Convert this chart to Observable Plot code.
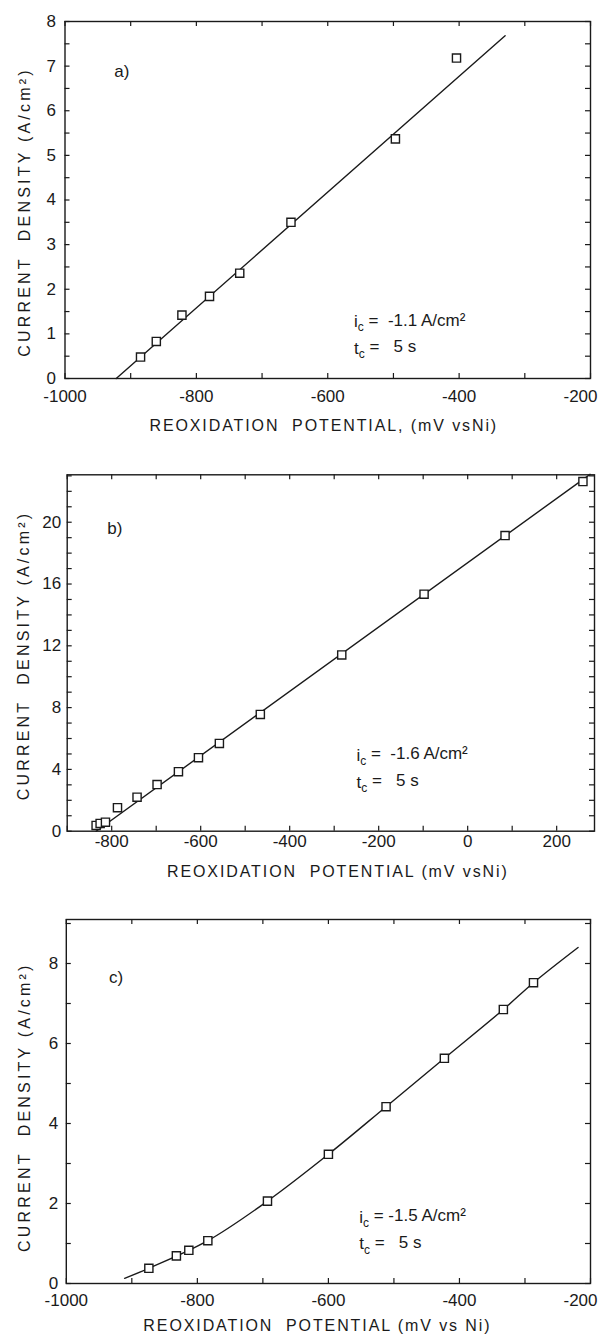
<!DOCTYPE html>
<html><head><meta charset="utf-8">
<script src="https://cdn.jsdelivr.net/npm/d3@7"></script>
<script src="https://cdn.jsdelivr.net/npm/@observablehq/plot@0.6"></script>
<style>
body{margin:0;background:#fff;}
#wrap{position:relative;width:605px;height:1342px;background:#fff;}
#wrap svg{position:absolute;left:0;}
</style></head><body><div id="wrap"></div>
<script>
// ---------- data ----------
// Panel a
const aPotential = [-885, -861, -822, -780, -734, -656, -497, -404];
const aCurrent   = [0.48, 0.83, 1.42, 1.84, 2.36, 3.50, 5.37, 7.18];
const aFitPotential = [-922, -330];
const aFitCurrent   = [0, 7.68];
const aXTicks = [-1000, -800, -600, -400, -200];
const aYTicks = [0, 1, 2, 3, 4, 5, 6, 7, 8];
// Panel b
const bPotential = [-835, -826, -814, -787, -743, -698, -650, -605, -558, -466, -283, -98, 84, 259];
const bCurrent   = [0.37, 0.50, 0.58, 1.52, 2.20, 3.02, 3.85, 4.76, 5.68, 7.56, 11.41, 15.34, 19.14, 22.63];
const bFitPotential = [-835, 275];
const bFitCurrent   = [0, 23.1];
const bXTicks = [-800, -600, -400, -200, 0, 200];
const bYTicks = [0, 4, 8, 12, 16, 20];
// Panel c
const cPotential = [-874, -832, -813, -784, -693, -600, -512, -423, -333, -287];
const cCurrent   = [0.38, 0.69, 0.83, 1.07, 2.06, 3.23, 4.42, 5.63, 6.85, 7.52];
const cFitPotential = [-911, -874, -784, -693, -600, -512, -423, -333, -287, -219];
const cFitCurrent   = [0.13, 0.38, 1.07, 2.06, 3.23, 4.42, 5.63, 6.85, 7.52, 8.40];
const cXTicks = [-1000, -800, -600, -400, -200];
const cYTicks = [0, 2, 4, 6, 8];

const yTitle = "CURRENT  DENSITY (A/cm²)";
const xTitles = ["REOXIDATION  POTENTIAL, (mV vsNi)", "REOXIDATION  POTENTIAL (mV vsNi)", "REOXIDATION  POTENTIAL (mV vs Ni)"];
const panelTags = ["a)", "b)", "c)"];
const icLabels = ["i_c =  -1.1 A/cm²", "i_c =  -1.6 A/cm²", "i_c = -1.5 A/cm²"];
const tcLabel = "t_c =   5 s";

// ---------- layout ----------
const panels = [
  {px: aPotential, py: aCurrent, fx: aFitPotential, fy: aFitCurrent, xt: aXTicks, yt: aYTicks,
   xDomain: [-1000, -200], yDomain: [0, 8], xMinorStep: 100, yMinorStep: 0.5, curve: "linear",
   top: 0, height: 447, mt: 21, mb: 69, ml: 64.5, mr: 15, xPad: 11, yPad: 9, lastDx: -10,
   xTitleDy: 52, xTitleDx: -4, yTitleDx: -40.5, yTitleDy: 12,
   tag: [-925, 6.88], ic: [-560, 1.27], tc: [-560, 0.67]},
  {px: bPotential, py: bCurrent, fx: bFitPotential, fy: bFitCurrent, xt: bXTicks, yt: bYTicks,
   xDomain: [-900, 285], yDomain: [0, 23.07], xMinorStep: 100, yMinorStep: 1, curve: "linear",
   top: 447, height: 448, mt: 27.3, mb: 64.3, ml: 66.7, mr: 11, xPad: 4, yPad: 6, lastDx: 0,
   xTitleDy: 46, xTitleDx: 7, yTitleDx: -43.7, yTitleDy: 2.5,
   tag: [-810, 19.6], ic: [-250, 4.9], tc: [-250, 3.17]},
  {px: cPotential, py: cCurrent, fx: cFitPotential, fy: cFitCurrent, xt: cXTicks, yt: cYTicks,
   xDomain: [-1000, -200], yDomain: [0, 9.1], xMinorStep: 100, yMinorStep: 1, curve: "catmull-rom",
   top: 895, height: 447, mt: 24, mb: 59, ml: 65.8, mr: 15, xPad: 10, yPad: 8, lastDx: -10,
   xTitleDy: 47, xTitleDx: -11, yTitleDx: -41.8, yTitleDy: 5.7,
   tag: [-935, 7.65], ic: [-553, 1.65], tc: [-553, 0.99]}
];

const INK = "#1a1a1a";
const wrap = document.getElementById("wrap");

panels.forEach((p, k) => {
  const W = 605, H = p.height;
  const fw = W - p.ml - p.mr, fh = H - p.mt - p.mb;
  const pts = p.px.map((x, i) => ({x, y: p.py[i]}));
  const fit = p.fx.map((x, i) => ({x, y: p.fy[i]}));
  const xMinor = d3.range(Math.ceil(p.xDomain[0] / p.xMinorStep) * p.xMinorStep, p.xDomain[1] + 1e-9, p.xMinorStep);
  const yMinor = d3.range(p.yDomain[0], p.yDomain[1] + 1e-9, p.yMinorStep);
  const tl = 5;
  const xtMain = p.lastDx ? p.xt.slice(0, -1) : p.xt;
  const xtLast = p.lastDx ? p.xt.slice(-1) : [];
  const svg = Plot.plot({
    width: W, height: H,
    marginTop: p.mt, marginBottom: p.mb, marginLeft: p.ml, marginRight: p.mr,
    x: {domain: p.xDomain, label: null},
    y: {domain: p.yDomain, label: null},
    style: {fontFamily: "Liberation Sans", fontSize: "17px", color: INK, background: "white"},
    marks: [
      Plot.frame({stroke: INK, strokeWidth: 1.4}),
      Plot.tickX(xMinor, {x: d => d, insetTop: fh - tl, stroke: INK, strokeWidth: 1.2}),
      Plot.tickX(xMinor, {x: d => d, insetBottom: fh - tl, stroke: INK, strokeWidth: 1.2}),
      Plot.tickY(yMinor, {y: d => d, insetRight: fw - tl, stroke: INK, strokeWidth: 1.2}),
      Plot.tickY(yMinor, {y: d => d, insetLeft: fw - tl, stroke: INK, strokeWidth: 1.2}),
      Plot.axisX(xtMain, {tickSize: 0, tickPadding: p.xPad, tickFormat: d => String(d), label: null, fill: INK}),
      Plot.axisY(p.yt, {tickSize: 0, tickPadding: p.yPad, tickFormat: d => String(d), label: null, fill: INK}),
      Plot.text(xtLast, {x: d => d, frameAnchor: "bottom", lineAnchor: "top", dy: p.xPad, dx: p.lastDx, text: d => String(d), fontSize: 17, fill: INK}),
      Plot.line(fit, {x: "x", y: "y", stroke: INK, strokeWidth: 1.4, curve: p.curve}),
      Plot.dot(pts, {x: "x", y: "y", symbol: "square", r: 4.6, fill: "white", stroke: INK, strokeWidth: 1.4}),
      Plot.text([panelTags[k]], {x: p.tag[0], y: p.tag[1], text: d => d, textAnchor: "start", fontSize: 17, fill: INK}),
      Plot.text([icLabels[k]], {x: p.ic[0], y: p.ic[1], text: d => d, textAnchor: "start", fontSize: 17, fill: INK}),
      Plot.text([tcLabel], {x: p.tc[0], y: p.tc[1], text: d => d, textAnchor: "start", fontSize: 17, fill: INK}),
      Plot.text([xTitles[k]], {frameAnchor: "bottom", dy: p.xTitleDy, dx: p.xTitleDx, text: d => d, textAnchor: "middle", fontSize: 16, fill: INK}),
      Plot.text([yTitle], {frameAnchor: "left", dx: p.yTitleDx, dy: p.yTitleDy, rotate: -90, text: d => d, textAnchor: "middle", fontSize: 16, fill: INK})
    ]
  });
  svg.style.top = p.top + "px";
  // post-process: subscripts, whitespace, letter spacing
  d3.select(svg).selectAll("text").each(function() {
    const t = this.textContent;
    if (t.startsWith("REOXIDATION")) {
      this.style.letterSpacing = "1.9px";
      this.style.whiteSpace = "pre";
    }
    if (t.startsWith("CURRENT")) {
      this.style.letterSpacing = "3.2px";
      this.style.whiteSpace = "pre";
    }
    if (t.includes("_c")) {
      const [a, b] = t.split("_c");
      const el = d3.select(this);
      el.text(null).style("white-space", "pre");
      el.append("tspan").text(a);
      el.append("tspan").attr("dy", "0.35em").attr("font-size", "12px").text("c");
      el.append("tspan").attr("dy", "-0.35em").text(b);
    }
  });
  wrap.appendChild(svg);
});
</script>
</body></html>
